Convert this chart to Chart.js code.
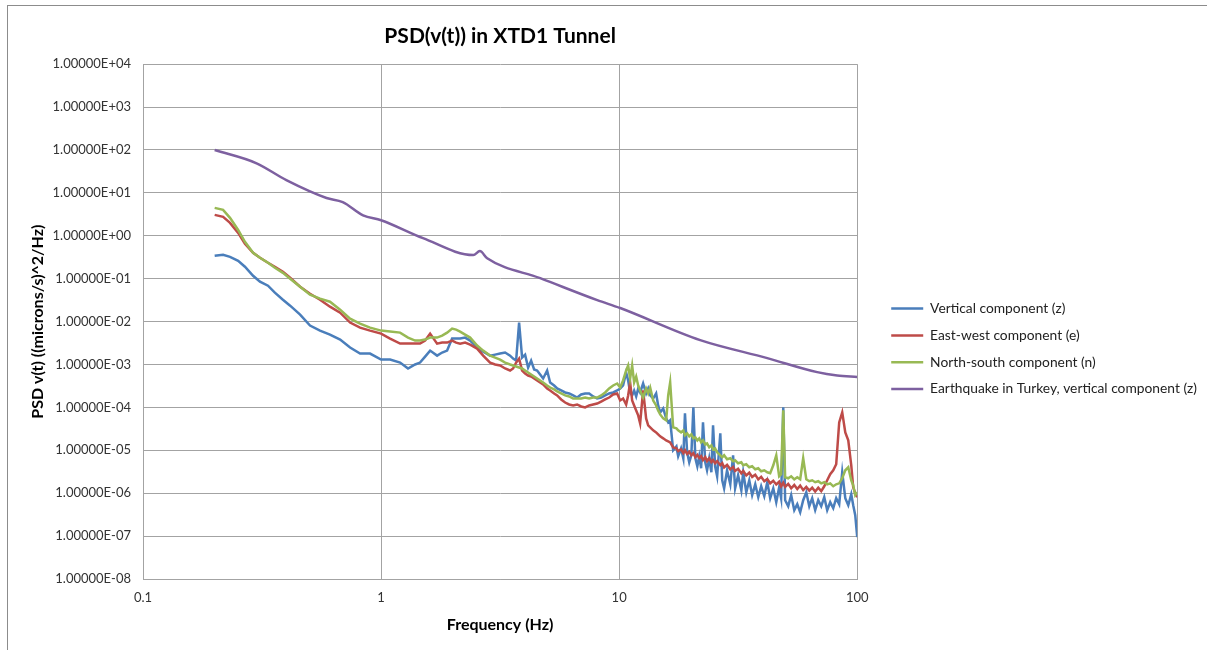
<!DOCTYPE html>
<html>
<head>
<meta charset="utf-8">
<title>PSD(v(t)) in XTD1 Tunnel</title>
<script src="https://cdn.jsdelivr.net/npm/chart.js@4.4.1/dist/chart.umd.min.js"></script>
<style>
  html, body { margin: 0; padding: 0; background: #fff; }
  #wrap { position: relative; width: 1207px; height: 650px; overflow: hidden; }
  #frame { position: absolute; left: 7px; top: 5px; right: -2px; bottom: -2px; border-left: 1px solid #8c8c8c; border-top: 1px solid #8c8c8c; }
  #psd { position: absolute; left: 0; top: 0; }
</style>
</head>
<body>
<div id="wrap">
  <div id="frame"></div>
  <canvas id="psd" width="1207" height="650"></canvas>
</div>
<script>
// frequences communes aux trois composantes mesurees (Hz)
const freq = [
  0.2, 0.217, 0.232, 0.251, 0.268, 0.29, 0.31, 0.335, 0.358, 0.387, 0.415, 0.457, 0.503, 0.554, 0.61, 0.673, 0.741, 0.816, 0.899, 1.0,
  1.091, 1.202, 1.298, 1.39, 1.458, 1.531, 1.607, 1.719, 1.805, 1.894, 1.988, 2.066, 2.148, 2.254, 2.366, 2.532, 2.684, 2.871, 3.013, 3.162,
  3.319, 3.483, 3.586, 3.692, 3.8, 3.912, 4.027, 4.146, 4.268, 4.394, 4.523, 4.657, 4.794, 4.983, 5.13, 5.333, 5.49, 5.707, 5.932, 6.166,
  6.41, 6.662, 6.925, 7.197, 7.482, 7.778, 8.084, 8.403, 8.735, 9.078, 9.437, 9.809,
  10.1, 10.39, 10.7, 10.91, 11.12, 11.34, 11.56, 11.79, 12.02, 12.25, 12.61, 12.98, 13.24, 13.5, 13.9, 14.3, 14.58, 14.87, 15.31, 15.76, 16.07, 16.38, 16.86,
  17.4, 17.7, 18.2, 18.6, 18.9, 19.3, 19.7, 20.1, 20.5, 20.9, 21.3, 21.7, 22.1, 22.5, 23.0, 23.4, 23.9, 24.4, 24.8, 25.3,
  25.8, 26.6, 27.1, 27.6, 28.4, 29.3, 30.1, 30.7, 31.6, 32.6, 33.2, 34.2, 35.2, 36.2, 37.3, 38.4, 39.5, 40.7, 41.9, 43.1,
  44.4, 45.7, 47.0, 47.9, 48.9, 49.8, 51.3, 52.8, 54.4, 56.0, 57.6, 59.3, 61.1, 62.9, 64.7, 66.6, 68.6, 70.6, 72.7, 74.8,
  77.0, 79.3, 81.6, 84.0, 86.5, 89.1, 91.7, 94.4, 96.2, 98.1, 100
];

const vertical = [
  0.342, 0.361, 0.324, 0.262, 0.19, 0.117, 0.0851, 0.0687, 0.0472, 0.0324, 0.0235, 0.0145, 0.00807, 0.00617, 0.00498, 0.00381, 0.00248, 0.0018, 0.0018, 0.0013,
  0.0013, 0.00111, 0.000807, 0.001, 0.00111, 0.00153, 0.00211, 0.00161, 0.0019, 0.00211, 0.00402, 0.00402, 0.00402, 0.00424, 0.00361, 0.00248, 0.002, 0.00161, 0.0017, 0.0018,
  0.0019, 0.00161, 0.00137, 0.00123, 0.00948, 0.00145, 0.0017, 0.000851, 0.00123, 0.000765, 0.000725, 0.000585, 0.000472, 0.000725, 0.000381, 0.000324, 0.000276, 0.000248, 0.000223, 0.000211,
  1.9e-4, 1.7e-4, 2.0e-4, 2.11e-4, 2.11e-4, 1.8e-4, 1.61e-4, 1.7e-4, 1.9e-4, 2.11e-4, 2.23e-4, 2.48e-4,
  2.76e-4, 3.24e-4, 6.51e-4, 4.24e-4, 2.23e-4, 1.9e-4, 2.48e-4, 1.8e-4, 2.76e-4, 2.23e-4, 3.61e-4, 2.11e-4, 2.76e-4, 1.9e-4, 1.61e-4, 2.11e-4, 1.11e-4, 7.65e-5, 9.48e-5, 5.54e-5, 4.47e-5, 4.98e-5, 1.0e-5,
  1.23e-5, 7.25e-6, 1.11e-5, 6.51e-6, 7.25e-5, 8.98e-6, 5.25e-6, 7.65e-6, 1.0e-4, 6.51e-6, 4.24e-6, 7.25e-6, 3.81e-6, 4.47e-5, 5.25e-6, 3.42e-6, 6.51e-6, 3.07e-6, 3.81e-5, 4.24e-6,
  2.48e-6, 2.48e-5, 2.0e-6, 1.3e-6, 3.42e-6, 1.61e-6, 7.65e-6, 1.3e-6, 2.62e-6, 1.17e-6, 3.07e-6, 1.05e-6, 2.0e-6, 8.98e-7, 1.61e-6, 8.07e-7, 1.45e-6, 8.51e-7, 1.8e-6, 7.65e-7,
  1.3e-6, 6.17e-7, 1.37e-6, 7.65e-7, 1.0e-4, 6.87e-7, 4.98e-7, 8.98e-7, 4.02e-7, 5.54e-7, 3.61e-7, 6.87e-7, 1.05e-6, 4.98e-7, 7.65e-7, 4.02e-7, 6.87e-7, 4.98e-7, 8.07e-7, 4.02e-7,
  6.17e-7, 4.47e-7, 7.65e-7, 5.54e-7, 3.07e-6, 7.65e-7, 5.25e-7, 9.48e-7, 5.25e-7, 3.07e-7, 9.48e-8
];

const eastWest = [
  3.07, 2.76, 2.0, 1.17, 0.651, 0.402, 0.307, 0.235, 0.19, 0.145, 0.105, 0.0651, 0.0447, 0.0324, 0.0223, 0.0161, 0.00948, 0.00725, 0.00617, 0.00525,
  0.00402, 0.00307, 0.00307, 0.00307, 0.00307, 0.00361, 0.00525, 0.00307, 0.00324, 0.00324, 0.00361, 0.00324, 0.00307, 0.00324, 0.00291, 0.00235, 0.00161, 0.00111, 0.001, 0.000948,
  8.07e-4, 7.25e-4, 8.07e-4, 1.11e-3, 1.37e-3, 7.25e-4, 6.17e-4, 5.54e-4, 5.25e-4, 4.72e-4, 4.24e-4, 3.81e-4, 3.42e-4, 2.76e-4, 2.48e-4, 2.11e-4, 1.9e-4, 1.53e-4, 1.3e-4, 1.17e-4,
  1.11e-4, 1.17e-4, 1.05e-4, 1.0e-4, 1.11e-4, 1.17e-4, 1.23e-4, 1.37e-4, 1.53e-4, 1.7e-4, 2.0e-4, 2.11e-4,
  1.45e-4, 1.61e-4, 1.17e-4, 1.9e-4, 3.81e-4, 1.45e-4, 1.11e-4, 8.51e-5, 6.51e-5, 4.24e-5, 2.48e-4, 5.54e-5, 3.81e-5, 3.42e-5, 2.91e-5, 2.62e-5, 2.35e-5, 2.11e-5, 1.9e-5, 1.7e-5, 1.61e-5, 1.53e-5, 1.17e-5,
  1.11e-5, 9.6e-6, 1.05e-5, 8.6e-6, 1.0e-5, 8.2e-6, 9.2e-6, 7.7e-6, 8.6e-6, 6.9e-6, 7.8e-6, 6.6e-6, 7.3e-6, 5.9e-6, 6.9e-6, 5.6e-6, 6.5e-6, 5.3e-6, 5.9e-6, 5.0e-6,
  5.6e-6, 4.5e-6, 5.0e-6, 4.0e-6, 4.6e-6, 3.6e-6, 4.1e-6, 3.3e-6, 3.7e-6, 2.9e-6, 3.3e-6, 2.6e-6, 3.0e-6, 2.4e-6, 2.7e-6, 2.1e-6, 2.4e-6, 1.9e-6, 2.15e-6, 1.7e-6,
  1.95e-6, 1.6e-6, 1.85e-6, 1.45e-6, 1.75e-6, 1.4e-6, 1.65e-6, 1.3e-6, 1.55e-6, 1.25e-6, 1.5e-6, 1.18e-6, 1.4e-6, 1.15e-6, 1.35e-6, 1.1e-6, 1.35e-6, 1.12e-6, 1.45e-6, 2.0e-6,
  2.76e-6, 3.42e-6, 4.72e-6, 4.47e-5, 7.65e-5, 2.62e-5, 1.7e-5, 4.47e-6, 1.37e-6, 1.0e-6, 8.07e-7
];

const northSouth = [
  4.47, 4.02, 2.62, 1.37, 0.725, 0.402, 0.307, 0.235, 0.18, 0.137, 0.1, 0.0651, 0.0424, 0.0342, 0.0291, 0.019, 0.0117, 0.00898, 0.00725, 0.00617,
  0.00585, 0.00554, 0.00424, 0.00361, 0.00361, 0.00381, 0.00424, 0.00424, 0.00472, 0.00554, 0.00687, 0.00651, 0.00585, 0.00498, 0.00424, 0.00276, 0.00211, 0.00161, 0.00145, 0.0013,
  1.11e-3, 1.0e-3, 9.48e-4, 8.98e-4, 8.51e-4, 8.07e-4, 7.25e-4, 6.51e-4, 5.85e-4, 5.25e-4, 4.72e-4, 4.24e-4, 3.81e-4, 3.24e-4, 2.91e-4, 2.62e-4, 2.35e-4, 2.11e-4, 1.9e-4, 1.8e-4,
  1.61e-4, 1.61e-4, 1.61e-4, 1.7e-4, 1.61e-4, 1.7e-4, 1.7e-4, 1.9e-4, 2.23e-4, 2.76e-4, 3.24e-4, 3.61e-4,
  2.91e-4, 4.24e-4, 7.25e-4, 9.48e-4, 4.72e-4, 9.48e-4, 3.81e-4, 5.25e-4, 3.24e-4, 2.48e-4, 1.7e-4, 2.76e-4, 2.11e-4, 2.91e-4, 1.45e-4, 1.11e-4, 8.51e-5, 6.87e-5, 5.54e-5, 4.98e-5, 1.9e-4, 3.81e-4, 3.42e-5,
  3.24e-5, 2.91e-5, 2.62e-5, 2.91e-5, 2.23e-5, 2.48e-5, 2.11e-5, 2.35e-5, 1.9e-5, 2.0e-5, 1.7e-5, 1.9e-5, 1.53e-5, 1.7e-5, 1.37e-5, 1.45e-5, 1.17e-5, 1.3e-5, 1.05e-5, 1.11e-5,
  8.98e-6, 7.65e-6, 6.87e-6, 7.65e-6, 6.17e-6, 6.51e-6, 5.54e-6, 5.85e-6, 4.98e-6, 5.25e-6, 4.47e-6, 4.72e-6, 4.02e-6, 4.24e-6, 3.61e-6, 3.81e-6, 3.24e-6, 3.42e-6, 3.07e-6, 2.91e-6,
  4.47e-6, 7.65e-6, 2.48e-6, 2.76e-6, 8.51e-5, 2.35e-6, 2.23e-6, 2.48e-6, 2.11e-6, 2.35e-6, 2.11e-6, 6.51e-6, 2.11e-6, 1.9e-6, 2.0e-6, 1.8e-6, 1.9e-6, 1.7e-6, 1.8e-6, 1.61e-6,
  1.7e-6, 1.45e-6, 1.61e-6, 1.7e-6, 2.23e-6, 3.42e-6, 4.02e-6, 2.0e-6, 1.53e-6, 8.98e-7, 1.05e-6
];

// seisme en Turquie, composante verticale
const turkeyFreq = [0.2, 0.3, 0.4, 0.59, 0.69, 0.84, 1.0, 1.5, 2.44, 2.6, 2.79, 4.66, 8.09, 10.1, 21.9, 41.9, 67.9, 82.4, 100];
const turkeyPsd = [100, 49, 19.8, 7.6, 6.1, 3.0, 2.3, 0.88, 0.355, 0.44, 0.30, 0.103, 0.0317, 0.0207, 0.0037, 0.00141, 6.65e-4, 5.54e-4, 5.1e-4];

const seriesNames = ['Vertical component (z)', 'East-west component (e)', 'North-south component (n)', 'Earthquake in Turkey, vertical component (z)'];
const xTicks = [0.1, 1, 10, 100];
const yTicks = [1e4, 1e3, 1e2, 1e1, 1e0, 1e-1, 1e-2, 1e-3, 1e-4, 1e-5, 1e-6, 1e-7, 1e-8];

const colors = ['#4a7ebb', '#be4b48', '#98b954', '#7d60a0'];
const fontFamily = 'Lato, "Open Sans", "Liberation Sans", sans-serif';

function pairs(xs, ys) {
    return xs.map((x, i) => ({ x: x, y: ys[i] }));
}

// format Excel : 1.00000E+04
function sciLabel(v) {
    const parts = Number(v).toExponential(5).split('e');
    const n = parseInt(parts[1], 10);
    return parts[0] + 'E' + (n < 0 ? '-' : '+') + String(Math.abs(n)).padStart(2, '0');
}

// largeur du texte de legende le plus long : l'espace restant sert d'ecart entre trace et legende
const legendFont = 13.8, legendPad = 13, lineLen = 32;
const measure = document.createElement('canvas').getContext('2d');
measure.font = legendFont + 'px ' + fontFamily;
let longest = 0;
for (const name of seriesNames) {
    longest = Math.max(longest, measure.measureText(name).width);
}
const legendWidth = legendPad + lineLen + legendFont / 2 + longest + 10;
const gapRight = Math.max(0, Math.floor(1207 - 857 - legendWidth));

Chart.defaults.font.family = fontFamily;
Chart.defaults.color = '#333';

const lineSets = [
    [freq, vertical, 4],
    [freq, eastWest, 3],
    [freq, northSouth, 2],
    [turkeyFreq, turkeyPsd, 1]
].map(function (s, i) {
    return {
        label: seriesNames[i],
        data: pairs(s[0], s[1]),
        borderColor: colors[i],
        backgroundColor: colors[i],
        borderWidth: 2.5,
        pointRadius: 0,
        fill: false,
        tension: 0,
        cubicInterpolationMode: i === 3 ? 'monotone' : 'default',
        order: s[2]
    };
});

const gridColor = '#a3a3a3';

new Chart(document.getElementById('psd'), {
    type: 'line',
    data: { datasets: lineSets },
    options: {
        responsive: false,
        animation: false,
        devicePixelRatio: 1,
        events: [],
        layout: { padding: 0 },
        plugins: {
            title: {
                display: true,
                text: 'PSD(v(t)) in XTD1 Tunnel',
                color: '#000',
                font: { size: 21, weight: 'bold' },
                padding: { top: 24, bottom: 15 },
                fullSize: false
            },
            legend: {
                position: 'right',
                align: 'center',
                fullSize: false,
                maxWidth: 400,
                title: { display: true, text: '', padding: { top: 20, bottom: 20 } },
                labels: {
                    usePointStyle: true,
                    pointStyle: 'line',
                    pointStyleWidth: lineLen,
                    padding: legendPad,
                    color: '#222',
                    font: { size: legendFont },
                    sort: (a, b) => a.datasetIndex - b.datasetIndex
                }
            },
            tooltip: { enabled: false }
        },
        scales: {
            x: {
                type: 'logarithmic',
                min: 0.1,
                max: 100,
                afterBuildTicks: s => { s.ticks = xTicks.map(v => ({ value: v })); },
                afterFit: s => { s.height = 71; },
                ticks: { padding: 11, font: { size: 13 }, color: '#333', callback: v => String(v), maxRotation: 0, autoSkip: false },
                grid: { color: gridColor, lineWidth: 1, drawTicks: false },
                border: { color: gridColor, width: 1 },
                title: { display: true, text: 'Frequency (Hz)', color: '#000', font: { size: 16, weight: 'bold' }, padding: { top: 4, bottom: 16 } }
            },
            y: {
                type: 'logarithmic',
                min: 1e-8,
                max: 1e4,
                afterBuildTicks: s => { s.ticks = yTicks.map(v => ({ value: v })); },
                afterFit: s => { s.width = 143; },
                ticks: { padding: 12, font: { size: 13 }, color: '#333', callback: v => sciLabel(v), autoSkip: false },
                grid: { color: gridColor, lineWidth: 1, drawTicks: false },
                border: { color: gridColor, width: 1 },
                title: { display: true, text: 'PSD v(t) ((microns/s)^2/Hz)', color: '#000', font: { size: 16, weight: 'bold' }, padding: { top: 28, bottom: 0 } }
            },
            gap: {
                type: 'linear',
                position: 'right',
                display: true,
                grid: { display: false },
                border: { display: false },
                ticks: { display: false },
                afterFit: s => { s.width = gapRight; }
            }
        }
    }
});
</script>
</body>
</html>
